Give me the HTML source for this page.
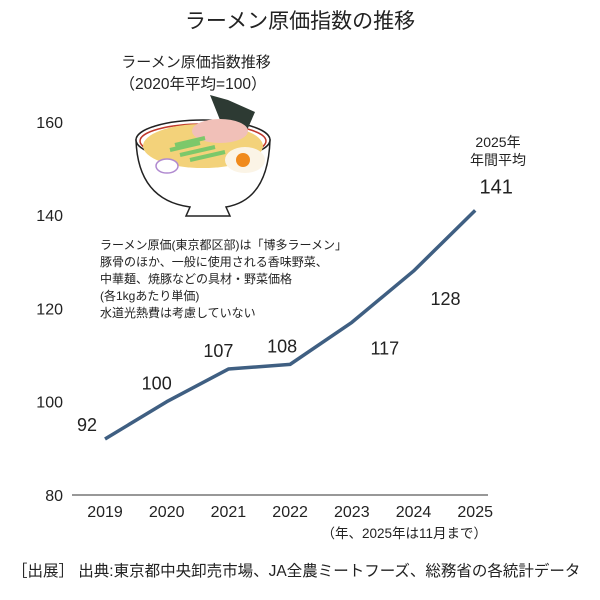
<!DOCTYPE html>
<html><head><meta charset="utf-8"><style>
body{margin:0;background:#fff;}
svg text{font-family:"Liberation Sans","Noto Sans CJK JP",sans-serif;fill:#222;}
</style></head><body>
<svg width="600" height="595" viewBox="0 0 600 595">
<text x="300" y="28" font-size="21" text-anchor="middle">ラーメン原価指数の推移</text>
<text x="196" y="67" font-size="15" text-anchor="middle">ラーメン原価指数推移</text>
<text x="193" y="89" font-size="15.5" text-anchor="middle">（2020年平均=100）</text>
<g>
 <path d="M136,140 Q138,200 190,207 L186,216 L230,216 L226,207 Q268,200 270,140 Z" fill="#fff" stroke="#222" stroke-width="1.5"/>
 <ellipse cx="203" cy="140" rx="67" ry="20" fill="#fff" stroke="#222" stroke-width="1.5"/>
 <ellipse cx="203" cy="141" rx="63" ry="17" fill="none" stroke="#c0392b" stroke-width="1.5"/>
 <ellipse cx="203" cy="146" rx="60" ry="22" fill="#f3d27a"/>
 <path d="M210,95 L228,100 L255,112 L245,135 L222,125 Z" fill="#2d3a33"/>
 <ellipse cx="220" cy="131" rx="28" ry="12" fill="#f1c0b8"/>
 <path d="M170,150 L200,143 M180,155 L215,147 M190,160 L225,152 M175,145 L205,138" stroke="#7cc86a" stroke-width="4"/>
 <ellipse cx="245" cy="160" rx="20" ry="13" fill="#fbf4e6"/>
 <circle cx="243" cy="160" r="7" fill="#f08a1c"/>
 <ellipse cx="167" cy="166" rx="11" ry="7" fill="#fff" stroke="#b08ad0" stroke-width="1.5"/>
</g>
<g font-size="12">
 <text x="100" y="249">ラーメン原価(東京都区部)は「博多ラーメン」</text>
 <text x="100" y="266">豚骨のほか、一般に使用される香味野菜、</text>
 <text x="100" y="283">中華麺、焼豚などの具材・野菜価格</text>
 <text x="100" y="300">(各1kgあたり単価)</text>
 <text x="100" y="317">水道光熱費は考慮していない</text>
</g>
<g id="yticks" font-size="16" text-anchor="end"></g>
<line x1="72" y1="495" x2="488" y2="495" stroke="#777" stroke-width="1.5"/>
<g id="xticks" font-size="16" text-anchor="middle"></g>
<text x="487" y="538" font-size="13.5" text-anchor="end">（年、2025年は11月まで）</text>
<path id="line" fill="none" stroke="#3f5f82" stroke-width="3.5" stroke-linejoin="round"/>
<g id="labels" font-size="18" text-anchor="middle"></g>
<text x="498" y="147" font-size="14" text-anchor="middle">2025年</text>
<text x="498" y="165" font-size="14" text-anchor="middle">年間平均</text>
<text x="12" y="576" font-size="15.5">［出展］ 出典:東京都中央卸売市場、JA全農ミートフーズ、総務省の各統計データ</text>
</svg>
<script>
const years=["2019","2020","2021","2022","2023","2024","2025"];
const values=[92,100,107,108,117,128,141];
const yTicks=[80,100,120,140,160];
const lblDx=[-18,-10,-10,-8,33,32,21];
const lblDy=[-8,-12,-12,-12,32,34,-17];
const NS="http://www.w3.org/2000/svg";
function xs(i){return 105+i*61.7;}
function ys(v){return 495-(v-80)*4.665;}
const yg=document.getElementById('yticks');
yTicks.forEach(t=>{const e=document.createElementNS(NS,'text');e.setAttribute('x',63);e.setAttribute('y',ys(t)+6);e.textContent=t;


yg.appendChild(e);});
const xg=document.getElementById('xticks');
years.forEach((y,i)=>{const e=document.createElementNS(NS,'text');e.setAttribute('x',xs(i));e.setAttribute('y',517);e.textContent=y;


xg.appendChild(e);});
document.getElementById('line').setAttribute('d',values.map((v,i)=>(i?'L':'M')+xs(i)+','+ys(v)).join(' '));
const lg=document.getElementById('labels');
values.forEach((v,i)=>{const e=document.createElementNS(NS,'text');e.setAttribute('x',xs(i)+lblDx[i]);e.setAttribute('y',ys(v)+lblDy[i]);e.textContent=v;
if(i===values.length-1)e.setAttribute('font-size','20');


lg.appendChild(e);});
</script>
</body></html>
